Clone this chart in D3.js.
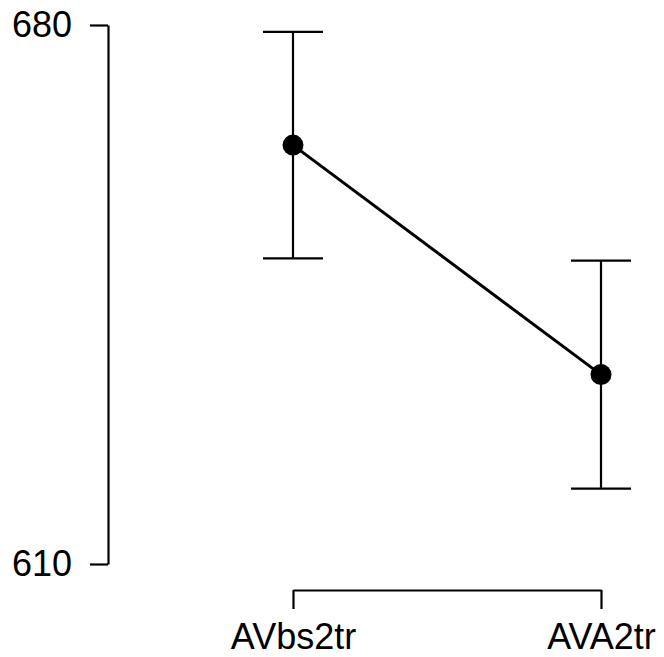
<!DOCTYPE html>
<html>
<head>
<meta charset="utf-8">
<script src="https://cdn.jsdelivr.net/npm/d3@7"></script>
<style>
  body { margin: 0; background: #fff; }
  text { font-family: "Liberation Sans", Arial, sans-serif; }
</style>
</head>
<body>
<div class="d3-canvas"></div>
<script>
const WIDTH = 664;
const HEIGHT = 657;

// Data.
const categories = ['AVbs2tr', 'AVA2tr'];
const means = [664.4, 634.6];
const upper = [679.1, 649.4];
const lower = [649.7, 619.8];
const yTicks = [610, 680];

const svg = d3.select('.d3-canvas')
    .append('svg')
        .attr('width', WIDTH)
        .attr('height', HEIGHT);

const data = categories.map((c, i) => ({name: c, mean: means[i], hi: upper[i], lo: lower[i]}));

// Scales.
const x = d3.scalePoint()
    .domain(categories)
    .range([293, 601]);
const y = d3.scaleLinear()
    .domain([610, 680])
    .range([564, 25]);

// Y axis (left).
const yAxisGroup = svg.append('g')
    .attr('transform', 'translate(108, 0)')
    .call(d3.axisLeft(y).tickValues(yTicks).tickSize(18).tickSizeOuter(0).tickPadding(18));

// X axis (bottom), only spans the categories.
const xAxisGroup = svg.append('g')
    .attr('transform', 'translate(0, 590)')
    .call(d3.axisBottom(x).tickSize(19).tickSizeOuter(0).tickPadding(14));

[yAxisGroup, xAxisGroup].forEach(g => {
    g.selectAll('path, line').attr('stroke', '#000').attr('stroke-width', 2.2);
    g.selectAll('text')
        .attr('fill', '#000')
        .style('font-size', '36px')
        .style('font-family', '"Liberation Sans", Arial, sans-serif');
});

const chart = svg.append('g');
const CAP = 30;

// Error bars.
const bars = chart.selectAll('g.err')
    .data(data)
    .enter()
    .append('g')
    .attr('class', 'err')
    .attr('stroke', '#000')
    .attr('stroke-width', 2.2);
bars.append('line')
    .attr('x1', d => x(d.name)).attr('x2', d => x(d.name))
    .attr('y1', d => y(d.hi)).attr('y2', d => y(d.lo));
bars.append('line')
    .attr('x1', d => x(d.name) - CAP).attr('x2', d => x(d.name) + CAP)
    .attr('y1', d => y(d.hi)).attr('y2', d => y(d.hi));
bars.append('line')
    .attr('x1', d => x(d.name) - CAP).attr('x2', d => x(d.name) + CAP)
    .attr('y1', d => y(d.lo)).attr('y2', d => y(d.lo));

// Line through means.
chart.append('path')
    .datum(data)
    .attr('fill', 'none')
    .attr('stroke', '#000')
    .attr('stroke-width', 3)
    .attr('d', d3.line().x(d => x(d.name)).y(d => y(d.mean)));

// Points.
chart.selectAll('circle')
    .data(data)
    .enter()
    .append('circle')
    .attr('cx', d => x(d.name))
    .attr('cy', d => y(d.mean))
    .attr('r', 10.5)
    .attr('fill', '#000');
</script>
</body>
</html>
